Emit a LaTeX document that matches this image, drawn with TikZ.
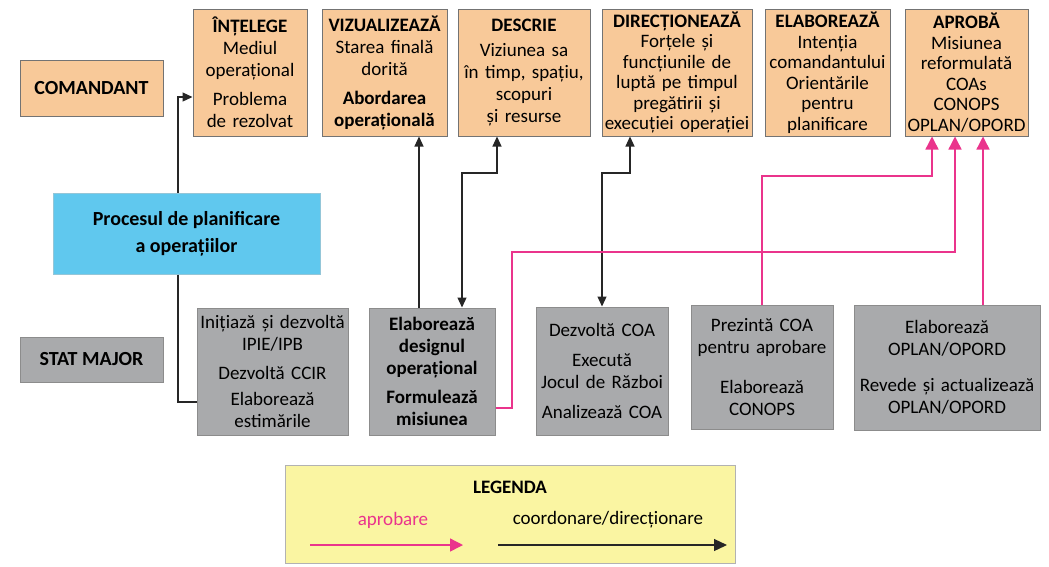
\documentclass[tikz,border=0pt]{standalone}
\usepackage{fontspec}
\setmainfont{Carlito}
\usetikzlibrary{arrows.meta}
\definecolor{portocaliu}{RGB}{248,201,153}
\definecolor{albastru}{RGB}{96,200,238}
\definecolor{gri}{RGB}{169,170,172}
\definecolor{galben}{RGB}{250,245,162}
\definecolor{roz}{RGB}{234,52,140}
\tikzset{
  cmdbox/.style={draw=black!55, fill=portocaliu, line width=1pt, align=center, inner sep=0pt},
  stfbox/.style={draw=black!45, fill=gri, line width=1pt, align=center, inner sep=0pt},
  coord/.style={draw=black!85, line width=1.2pt, -{Triangle[length=10pt,width=9pt]}},
  aprob/.style={draw=roz, line width=1.4pt, -{Triangle[length=13pt,width=13pt]}},
  txt/.style={font=\fontsize{19}{22}\selectfont},
  strans/.style={font=\fontsize{19}{20.5}\selectfont}
}
\begin{document}
\begin{tikzpicture}[x=1pt, y=-1pt, txt]
  \useasboundingbox (0,0) rectangle (1049,566);
  % randul comandantului
  \node[cmdbox, minimum width=143pt, minimum height=56pt] (coman) at (91.5,88) {\fontsize{20}{22}\selectfont\bfseries COMANDANT};
  \node[cmdbox, text width=114pt, minimum height=127pt] (intel) at (250,72.5) {\textbf{ÎNȚELEGE}\\Mediul\\operațional\\[7pt]Problema\\de rezolvat};
  \node[cmdbox, text width=125pt, minimum height=127pt] (viz) at (384.5,72.5) {\textbf{VIZUALIZEAZĂ}\\Starea finală\\dorită\\[7pt]\textbf{Abordarea}\\\textbf{operațională}};
  \node[cmdbox, text width=132pt, minimum height=127pt] (descr) at (524,72.5) {\textbf{DESCRIE}\\[3pt]Viziunea sa\\în timp, spațiu,\\scopuri\\și resurse};
  \node[cmdbox, strans, text width=150pt, minimum height=127pt] (direct) at (677,72.5) {\textbf{DIRECȚIONEAZĂ}\\Forțele și\\funcțiunile de\\luptă pe timpul\\pregătirii și\\execuției operației};
  \node[cmdbox, strans, text width=125pt, minimum height=127pt] (elab) at (827.5,72.5) {\textbf{ELABOREAZĂ}\\Intenția\\comandantului\\Orientările\\pentru\\planificare};
  \node[cmdbox, strans, text width=123pt, minimum height=127pt] (aprobnod) at (966.5,72.5) {\textbf{APROBĂ}\\Misiunea\\reformulată\\COAs\\CONOPS\\OPLAN/OPORD};
  % procesul
  \node[draw=albastru!80!black!60, fill=albastru, line width=1pt, align=center, minimum width=267pt, minimum height=81pt, font=\fontsize{20}{27}\selectfont\bfseries] (proces) at (186.5,233.5) {Procesul de planificare\\a operațiilor};
  % randul statului major
  \node[stfbox, minimum width=143pt, minimum height=45pt] (stat) at (91.5,359.5) {\fontsize{20}{22}\selectfont\bfseries STAT MAJOR};
  \node[stfbox, text width=151pt, minimum height=127pt] (initiaza) at (272.5,371.5) {Inițiază și dezvoltă\\IPIE/IPB\\[7pt]Dezvoltă CCIR\\[4pt]Elaborează\\estimările};
  \node[stfbox, text width=126pt, minimum height=127pt, font=\fontsize{19}{22}\selectfont\bfseries] (design) at (432,371.5) {Elaborează\\designul\\operațional\\[7pt]Formulează\\misiunea};
  \node[stfbox, text width=132pt, minimum height=128pt] (dezv) at (602,371) {Dezvoltă COA\\[8pt]Execută\\Jocul de Război\\[8pt]Analizează COA};
  \node[stfbox, text width=142pt, minimum height=124pt] (prez) at (762,367) {Prezintă COA\\pentru aprobare\\[18pt]Elaborează\\CONOPS};
  \node[stfbox, text width=186pt, minimum height=125pt] (oplan) at (947,367.5) {Elaborează\\OPLAN/OPORD\\[14pt]Revede și actualizează\\OPLAN/OPORD};
  % legatura proces
  \draw[coord] (178,0 |- proces.north) |- (intel.west |- 0,97);
  \draw[draw=black!85, line width=1.2pt] (178,0 |- proces.south) |- (initiaza.west |- 0,402);
  % coordonare / directionare
  \draw[coord] (design.north -| 419,0) -- (viz.south -| 419,0);
  \draw[coord, {Triangle[length=10pt,width=9pt]}-{Triangle[length=10pt,width=9pt]}] (descr.south -| 497,0) |- (462,173) -- (design.north -| 462,0);
  \draw[coord, {Triangle[length=10pt,width=9pt]}-{Triangle[length=10pt,width=9pt]}] (direct.south -| 630,0) |- (dezv.north |- 0,173) -- (dezv.north);
  % aprobare
  \draw[aprob] (design.east |- 0,408) -| (512,252) -| (aprobnod.south -| 955,0);
  \draw[aprob] (prez.north) |- (932,176) -- (aprobnod.south -| 932,0);
  \draw[aprob] (oplan.north -| 983,0) -- (aprobnod.south -| 983,0);
  % legenda
  \node[draw=black!30, fill=galben, line width=1pt, minimum width=450pt, minimum height=98pt] (legenda) at (510,514) {};
  \node[font=\fontsize{19}{22}\selectfont\bfseries] (legtitlu) at (510,487) {LEGENDA};
  \node[text=roz] (legaprob) at (393,520) {aprobare};
  \node (legcoord) at (608,520) {coordonare/direcționare};
  \coordinate (a1) at (310,545);
  \coordinate (a2) at (463,545);
  \coordinate (b1) at (498,545);
  \coordinate (b2) at (727,545);
  \draw[aprob] (a1) -- (a2);
  \draw[coord, -{Triangle[length=13pt,width=12pt]}] (b1) -- (b2);
\end{tikzpicture}
\end{document}
